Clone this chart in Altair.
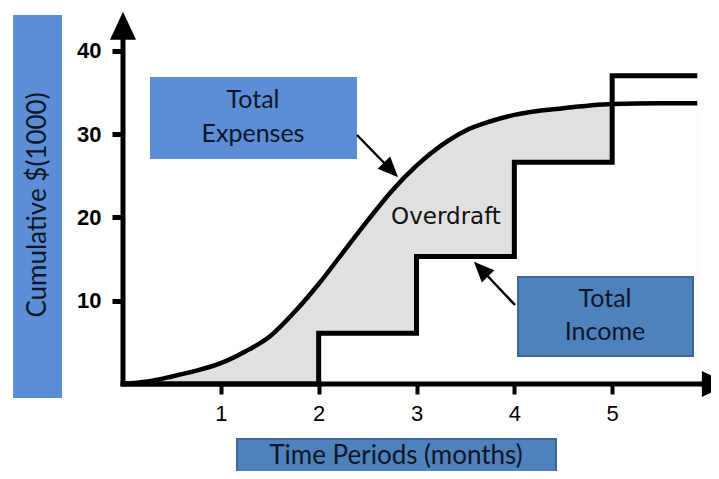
import altair as alt
import pandas as pd

# ---- data ----
expense_month = [0, 0.25, 0.5, 0.75, 1.0, 1.25, 1.5, 1.75, 2.0, 2.25, 2.5, 2.75,
                 3.0, 3.25, 3.5, 3.75, 4.0, 4.5, 5.0, 5.5, 5.87]
expense_value = [0, 0.3, 0.9, 1.6, 2.5, 3.9, 5.7, 8.6, 12.0, 15.8, 19.6, 23.2,
                 26.2, 28.6, 30.4, 31.5, 32.3, 33.1, 33.6, 33.7, 33.7]
income_month = [0, 2, 3, 4, 5, 5.87]
income_value = [0, 6.1, 15.3, 26.6, 37.0, 37.0]
x_ticks = [1, 2, 3, 4, 5]
y_ticks = [10, 20, 30, 40]

exp_df = pd.DataFrame({"m": expense_month, "v": expense_value})
inc_df = pd.DataFrame({"m": income_month, "v": income_value})

W, H = 587, 375
OX, OY = 123, 9  # page position of the plot origin (for annotation pixels)

xs = alt.Scale(domain=[0, 6], nice=False, zero=False)
ys = alt.Scale(domain=[0, 45], nice=False, zero=False)
xaxis = alt.Axis(values=x_ticks, domain=False, grid=False, tickSize=10, tickWidth=4,
                 tickColor="black", labelFont="Liberation Sans", labelFontSize=22,
                 labelColor="black", labelPadding=9, title=None, format="d")
yaxis = alt.Axis(values=y_ticks, domain=False, grid=False, tickSize=11, tickWidth=5,
                 tickColor="black", labelFont="Liberation Sans", labelFontSize=22,
                 labelFontWeight="bold", labelColor="black", labelPadding=11,
                 title=None, format="d")
X = alt.X("m:Q", scale=xs, axis=xaxis)
Y = alt.Y("v:Q", scale=ys, axis=yaxis)

gray = alt.Chart(exp_df).mark_area(interpolate="monotone", color="#e0e0e0").encode(x=X, y=Y)
mask = alt.Chart(inc_df).mark_area(interpolate="step-after", color="white").encode(x=X, y=Y)
exp_line = alt.Chart(exp_df).mark_line(interpolate="monotone", color="black",
                                       strokeWidth=4.5).encode(x=X, y=Y)
inc_line = alt.Chart(inc_df).mark_line(interpolate="step-after", color="black",
                                       strokeWidth=5).encode(x=X, y=Y)

axis_df = pd.DataFrame({"m": [0, 0], "v": [0, 0], "m2": [5.95, 0], "v2": [0, 41.5]})
axis_lines = alt.Chart(axis_df).mark_rule(color="black", strokeWidth=5,
                                          strokeCap="square").encode(
    x=X, y=Y, x2="m2:Q", y2="v2:Q")

head_df = pd.DataFrame({"m": [0, 6.06], "v": [43.0, 0], "a": [0, 90]})
axis_heads = alt.Chart(head_df).mark_point(
    shape="M0,-1L0.93,1L-0.93,1Z", filled=True, size=784, color="black", opacity=1
).encode(x=X, y=Y, angle=alt.Angle("a:Q", scale=None))

one = pd.DataFrame({"k": [0]})


def box(x0, y0, x1, y1, fill, stroke=None):
    kw = dict(color=fill)
    if stroke:
        kw.update(stroke=stroke, strokeWidth=2)
    return alt.Chart(one).mark_rect(**kw).encode(
        x=alt.value(x0 - OX), x2=alt.value(x1 - OX),
        y=alt.value(y0 - OY), y2=alt.value(y1 - OY))


def label(txt, px, py, size=25, font="Lato", color="#0e1626", angle=0):
    kw = dict(text=txt, font=font, fontSize=size, color=color,
              align="center", baseline="middle")
    if angle:
        kw["angle"] = angle
    return alt.Chart(one).mark_text(**kw).encode(
        x=alt.value(px - OX), y=alt.value(py - OY))


def arrow(x0, y0, x1, y1, hx, hy, ang):
    line = alt.Chart(one).mark_rule(color="black", strokeWidth=2.5).encode(
        x=alt.value(x0 - OX), y=alt.value(y0 - OY),
        x2=alt.value(x1 - OX), y2=alt.value(y1 - OY))
    head = alt.Chart(one).mark_point(
        shape="M0,-1L0.85,1L-0.85,1Z", filled=True, size=420, color="black",
        opacity=1, angle=ang).encode(x=alt.value(hx - OX), y=alt.value(hy - OY))
    return line + head


annotations = [
    box(13, 15, 62, 398, "#5b8ed6"),
    label("Cumulative $(1000)", 38, 205, size=26, angle=270),
    box(237, 439, 556, 482, "#4f81bd", "#3d6796"),
    label("Time Periods (months)", 396, 456, size=26),
    box(150, 77, 357, 159, "#5b8ed6"),
    label("Total", 253, 100),
    label("Expenses", 253, 134),
    box(518, 277, 693, 356, "#4f81bd", "#3d6796"),
    label("Total", 605, 299),
    label("Income", 605, 332),
    label("Overdraft", 446, 217, size=23, font="DejaVu Sans", color="#111111"),
    arrow(357, 135, 391, 170, 391, 170, 136),
    arrow(515, 305, 481, 269, 481, 269, 316),
]

chart = alt.layer(gray, mask, exp_line, inc_line, axis_lines, axis_heads, *annotations).properties(
    width=W, height=H,
    padding={"left": 115, "top": 1, "right": 1, "bottom": 87},
    autosize=alt.AutoSizeParams(type="none"),
).configure_view(stroke=None)

chart.save("out.html", embed_options={"renderer": "svg", "actions": False})
